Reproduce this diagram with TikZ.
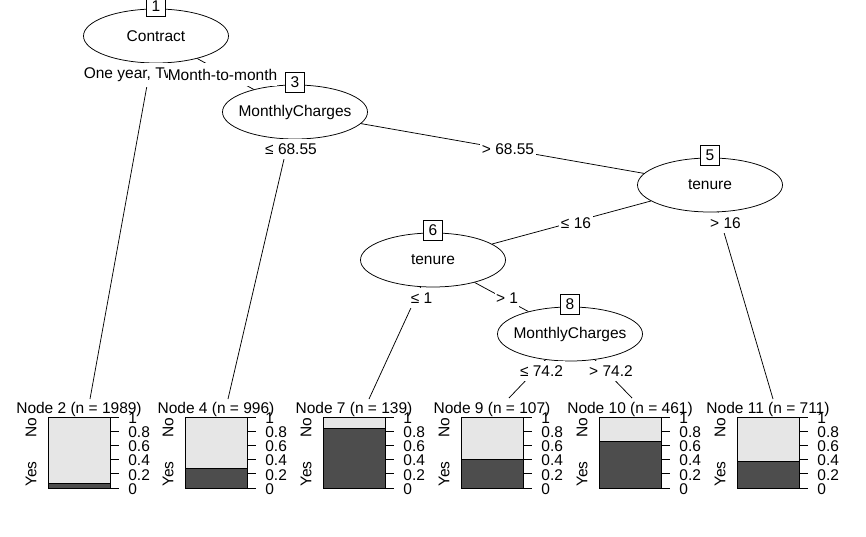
\documentclass[tikz,border=0pt]{standalone}
\usepackage{fontspec}
\setmainfont{Liberation Sans}
\usepackage{xcolor}
\usepackage{tikz}
\usetikzlibrary{
	shapes.geometric,
	positioning
}
\definecolor{BarLight}{RGB}{230, 230, 230}
\definecolor{BarDark}{RGB}{77, 77, 77}
\newcommand{\rfont}{\fontsize{15.5}{18}\selectfont}
\tikzset{
	split/.style={ellipse, draw, fill=white, minimum width=145pt, minimum height=54pt, inner xsep=-14pt, inner ysep=0pt, font=\rfont},
	numbox/.style={draw, fill=white, minimum width=19pt, minimum height=20pt, inner sep=0pt, font=\rfont},
	elabel/.style={fill=white, inner xsep=1.5pt, inner ysep=5pt, font=\rfont},
	plain/.style={inner sep=0pt, font=\rfont}
}

\begin{document}
\begin{tikzpicture}[x=1pt, y=-1pt, line width=0.75pt]
		\useasboundingbox (0,0) rectangle (866,537);
		% inner nodes
		\node[split] (n1) at (156,36) {Contract};
		\node[split] (n3) at (295,112) {MonthlyCharges};
		\node[split] (n5) at (710,185) {tenure};
		\node[split] (n6) at (433,260) {tenure};
		\node[split] (n8) at (570,334) {MonthlyCharges};
		\node[numbox] (b1) at (156,6) {1};
		\node[numbox] (b3) at (295,82) {3};
		\node[numbox] (b5) at (710,155) {5};
		\node[numbox] (b6) at (433,230) {6};
		\node[numbox] (b8) at (570,304) {8};
		% ends of the edges at the terminal nodes
		\coordinate (t2) at (90,399);
		\coordinate (t4) at (228,399);
		\coordinate (t7) at (369,399);
		\coordinate (t9) at (509,398);
		\coordinate (t10) at (632,398);
		\coordinate (t11) at (773,399);
		\draw (n1) -- (t2);
		\draw (n1) -- (n3);
		\draw (n3) -- (t4);
		\draw (n3) -- (n5);
		\draw (n5) -- (n6);
		\draw (n5) -- (t11);
		\draw (n6) -- (t7);
		\draw (n6) -- (n8);
		\draw (n8) -- (t9);
		\draw (n8) -- (t10);
		% edge labels
		\node[elabel] (l1a) at (151,75) {One year, Two year};
		\node[elabel, inner xsep=0pt] (l1b) at (222.5,75) {Month-to-month};
		\node[elabel] (l3a) at (291,149) {≤ 68.55};
		\node[elabel] (l3b) at (508,149) {> 68.55};
		\node[elabel] (l5a) at (576,223) {≤ 16};
		\node[elabel] (l5b) at (725.5,223) {> 16};
		\node[elabel] (l6a) at (421.5,298) {≤ 1};
		\node[elabel] (l6b) at (507,298) {> 1};
		\node[elabel] (l8a) at (541.5,371) {≤ 74.2};
		\node[elabel] (l8b) at (611,371) {> 74.2};
		% terminal bar plots
		\foreach \k/\l/\f/\n in {2/48/0.07/1989, 4/185/0.28/996, 7/323/0.845/139, 9/461/0.41/107, 10/599/0.65/461, 11/737/0.38/711} {
			\node[plain] (ttl\k) at ({\l+31},409.5) {Node \k\ (n = \n)};
			\fill[BarLight] (\l,417) rectangle ++(62,71);
			\fill[BarDark] (\l,488) rectangle ++(62,{-71*\f});
			\draw (\l,417) rectangle ++(62,71);
			\draw (\l,{488-71*\f}) -- ++(62,0);
			\foreach \v in {0,0.2,0.4,0.6,0.8,1} {
				\draw ({\l+62},{488-71*\v}) -- ++(9,0);
				\node[plain, anchor=west] (tk\k-\v) at ({\l+80},{489-71*\v}) {\v};
			}
			\node[plain, rotate=90, anchor=east] (no\k) at ({\l-17},417) {No};
			\node[plain, rotate=90, anchor=west] (yes\k) at ({\l-17},487) {Yes};
		}
	\end{tikzpicture}
\end{document}
